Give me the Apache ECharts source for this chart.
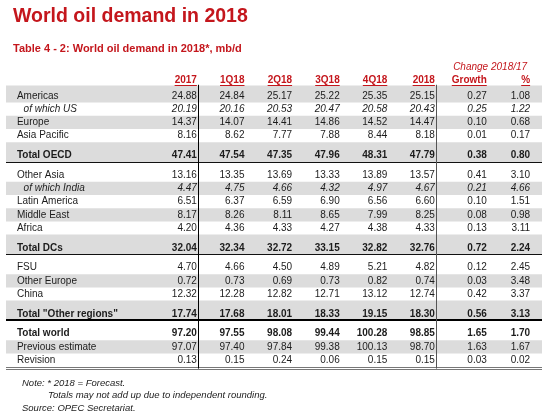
<!DOCTYPE html>
<html><head><meta charset="utf-8">
<script src="https://cdn.jsdelivr.net/npm/echarts@6/dist/echarts.min.js"></script>
<style>html,body{margin:0;padding:0;background:#fff}#c{width:550px;height:411px}</style>
</head><body><div id="c"></div>
<script>
// ---------- data ----------
const chartTitle = 'World oil demand in 2018';
const chartSubtitle = 'Table 4 - 2: World oil demand in 2018*, mb/d';
const changeHeader = 'Change 2018/17';
const columns = ['2017', '1Q18', '2Q18', '3Q18', '4Q18', '2018', 'Growth', '%'];
const rows = ['Americas', 'of which US', 'Europe', 'Asia Pacific', 'Total OECD',
  'Other Asia', 'of which India', 'Latin America', 'Middle East', 'Africa', 'Total DCs',
  'FSU', 'Other Europe', 'China', 'Total "Other regions"',
  'Total world', 'Previous estimate', 'Revision'];
const rowKinds = ['normal', 'sub', 'normal', 'normal', 'total',
  'normal', 'sub', 'normal', 'normal', 'normal', 'total',
  'normal', 'normal', 'normal', 'total',
  'bold', 'normal', 'normal'];
const v2017 = [24.88, 20.19, 14.37, 8.16, 47.41, 13.16, 4.47, 6.51, 8.17, 4.20, 32.04, 4.70, 0.72, 12.32, 17.74, 97.20, 97.07, 0.13];
const v1Q18 = [24.84, 20.16, 14.07, 8.62, 47.54, 13.35, 4.75, 6.37, 8.26, 4.36, 32.34, 4.66, 0.73, 12.28, 17.68, 97.55, 97.40, 0.15];
const v2Q18 = [25.17, 20.53, 14.41, 7.77, 47.35, 13.69, 4.66, 6.59, 8.11, 4.33, 32.72, 4.50, 0.69, 12.82, 18.01, 98.08, 97.84, 0.24];
const v3Q18 = [25.22, 20.47, 14.86, 7.88, 47.96, 13.33, 4.32, 6.90, 8.65, 4.27, 33.15, 4.89, 0.73, 12.71, 18.33, 99.44, 99.38, 0.06];
const v4Q18 = [25.35, 20.58, 14.52, 8.44, 48.31, 13.89, 4.97, 6.56, 7.99, 4.38, 32.82, 5.21, 0.82, 13.12, 19.15, 100.28, 100.13, 0.15];
const v2018 = [25.15, 20.43, 14.47, 8.18, 47.79, 13.57, 4.67, 6.60, 8.25, 4.33, 32.76, 4.82, 0.74, 12.74, 18.30, 98.85, 98.70, 0.15];
const growth = [0.27, 0.25, 0.10, 0.01, 0.38, 0.41, 0.21, 0.10, 0.08, 0.13, 0.72, 0.12, 0.03, 0.42, 0.56, 1.65, 1.63, 0.03];
const pct = [1.08, 1.22, 0.68, 0.17, 0.80, 3.10, 4.66, 1.51, 0.98, 3.11, 2.24, 2.45, 3.48, 3.37, 3.13, 1.70, 1.67, 0.02];
const notes = ['Note: * 2018 = Forecast.', 'Totals may not add up due to independent rounding.', 'Source: OPEC Secretariat.'];

// ---------- layout / style ----------
const valueCols = [v2017, v1Q18, v2Q18, v3Q18, v4Q18, v2018, growth, pct];
const RED = '#c4161c';
const TXT = '#1c1c1c';
const BAND = '#dcdcdc';
const FAM = '"Liberation Sans", Arial, sans-serif';
const FS = 10;
const colSlot = [0, 1, 2, 3, 4, 5, 6.09, 7.0];
const labelSlot = -3.78, subLabelSlot = -3.64;
const X_MIN = -4.01, X_MAX = 7.25, Y_MIN = -2.5, Y_MAX = 21;
const headerY = -1.22, changeY = -2.2, changeSlot = 6.16;
const ruleStyles = [{ w: 1, c: '#111' }, { w: 1, c: '#111' }, { w: 2, c: '#000' }];

// row positions in "row units"
const rowPos = [], bands = [], rules = [];
let cur = -1;
rows.forEach((r, i) => {
  if (rowKinds[i] === 'total') {
    const top = cur + 0.5, bottom = cur + 2.0;
    rowPos.push(bottom - 0.5);
    if (i % 2 === 0) bands.push([top, bottom]);
    const s = ruleStyles[rules.length];
    rules.push({ y: bottom, w: s.w, c: s.c });
    cur = bottom;
  } else {
    cur += 1;
    rowPos.push(cur);
    if (i % 2 === 0) bands.push([cur - 0.5, cur + 0.5]);
  }
});
bands[0][0] = -0.8;
const lastY = rowPos[rowPos.length - 1];
rules.push({ y: lastY + 0.5, w: 1, c: '#777' });
rules.push({ y: lastY + 0.65, w: 1, c: '#777' });
const vlines = [{ x: 0.03, c: '#000' }, { x: 5.03, c: '#555' }];

// cells
const cells = [];
rows.forEach((r, i) => {
  const k = rowKinds[i];
  const weight = (k === 'total' || k === 'bold') ? 'bold' : 'normal';
  const style = k === 'sub' ? 'italic' : 'normal';
  cells.push({ x: k === 'sub' ? subLabelSlot : labelSlot, y: rowPos[i], text: r, align: 'left', weight, style, color: TXT });
  valueCols.forEach((col, c) => {
    cells.push({ x: colSlot[c], y: rowPos[i], text: col[i].toFixed(2), align: 'right', weight, style, color: TXT });
  });
});
const heads = columns.map((h, c) => ({ x: colSlot[c], y: headerY, text: h }));

const measureCtx = document.createElement('canvas').getContext('2d');
function textW(t, font) { measureCtx.font = font; return measureCtx.measureText(t).width; }

const chart = echarts.init(document.getElementById('c'), null, { renderer: 'canvas' });
chart.setOption({
  animation: false,
  backgroundColor: '#fff',
  title: [
    { text: chartTitle, left: 8, top: 2, textStyle: { color: RED, fontSize: 19.5, fontWeight: 'bold', fontFamily: FAM } },
    { text: chartSubtitle, left: 8, top: 38, textStyle: { color: RED, fontSize: 11, fontWeight: 'bold', fontFamily: FAM } },
    { text: notes[0], left: 17, top: 373, textStyle: { color: TXT, fontSize: 9.5, fontWeight: 'normal', fontStyle: 'italic', fontFamily: FAM } },
    { text: notes[1], left: 43, top: 385, textStyle: { color: TXT, fontSize: 9.5, fontWeight: 'normal', fontStyle: 'italic', fontFamily: FAM } },
    { text: notes[2], left: 17, top: 398, textStyle: { color: TXT, fontSize: 9.5, fontWeight: 'normal', fontStyle: 'italic', fontFamily: FAM } }
  ],
  grid: { left: 6, right: 8, top: 63, bottom: 37.8 },
  xAxis: { type: 'value', min: X_MIN, max: X_MAX, show: false },
  yAxis: { type: 'value', min: Y_MIN, max: Y_MAX, inverse: true, show: false },
  series: [
    {
      type: 'custom', z: 1, silent: true,
      data: bands.map(b => [X_MIN, b[0]]),
      encode: { x: 0, y: 1 },
      renderItem(params, api) {
        const b = bands[params.dataIndex];
        const p0 = api.coord([X_MIN, b[0]]), p1 = api.coord([X_MAX, b[1]]);
        return { type: 'rect', shape: { x: p0[0], y: p0[1], width: p1[0] - p0[0], height: p1[1] - p0[1] }, style: { fill: BAND } };
      }
    },
    {
      type: 'custom', z: 3, silent: true,
      data: rules.map(r => [X_MIN, r.y]),
      encode: { x: 0, y: 1 },
      renderItem(params, api) {
        const r = rules[params.dataIndex];
        const p0 = api.coord([X_MIN, r.y]), p1 = api.coord([X_MAX, r.y]);
        const yy = Math.round(p0[1]) + (r.w % 2 ? 0.5 : 0);
        return { type: 'line', shape: { x1: p0[0], y1: yy, x2: p1[0], y2: yy }, style: { stroke: r.c, lineWidth: r.w } };
      }
    },
    {
      type: 'custom', z: 3, silent: true,
      data: vlines.map(v => [v.x, -0.85]),
      encode: { x: 0, y: 1 },
      renderItem(params, api) {
        const v = vlines[params.dataIndex];
        const p0 = api.coord([v.x, -0.85]), p1 = api.coord([v.x, lastY + 0.65]);
        const xx = Math.round(p0[0]) + 0.5;
        return { type: 'line', shape: { x1: xx, y1: p0[1], x2: xx, y2: p1[1] }, style: { stroke: v.c, lineWidth: 1 } };
      }
    },
    {
      type: 'custom', z: 4, silent: true,
      data: cells.map(c => [c.x, c.y]),
      encode: { x: 0, y: 1 },
      renderItem(params, api) {
        const c = cells[params.dataIndex];
        const p = api.coord([c.x, c.y]);
        return { type: 'text', x: p[0], y: p[1], style: { text: c.text, align: c.align, verticalAlign: 'middle', fill: c.color, fontSize: FS, fontFamily: FAM, fontWeight: c.weight, fontStyle: c.style } };
      }
    },
    {
      type: 'custom', z: 4, silent: true,
      data: heads.map(h => [h.x, h.y]),
      encode: { x: 0, y: 1 },
      renderItem(params, api) {
        const h = heads[params.dataIndex];
        const p = api.coord([h.x, h.y]);
        const w = textW(h.text, 'bold ' + FS + 'px ' + FAM);
        const uy = Math.round(p[1] + 5) + 0.5;
        return {
          type: 'group', children: [
            { type: 'text', x: p[0], y: p[1], style: { text: h.text, align: 'right', verticalAlign: 'middle', fill: RED, fontSize: FS, fontFamily: FAM, fontWeight: 'bold' } },
            { type: 'line', shape: { x1: p[0] - w, y1: uy, x2: p[0], y2: uy }, style: { stroke: RED, lineWidth: 1 } }
          ]
        };
      }
    },
    {
      type: 'custom', z: 4, silent: true,
      data: [[changeSlot, changeY]],
      encode: { x: 0, y: 1 },
      renderItem(params, api) {
        const p = api.coord([changeSlot, changeY]);
        return { type: 'text', x: p[0], y: p[1], style: { text: changeHeader, align: 'center', verticalAlign: 'middle', fill: RED, fontSize: FS, fontFamily: FAM, fontStyle: 'italic' } };
      }
    }
  ]
});
</script>
</body></html>
